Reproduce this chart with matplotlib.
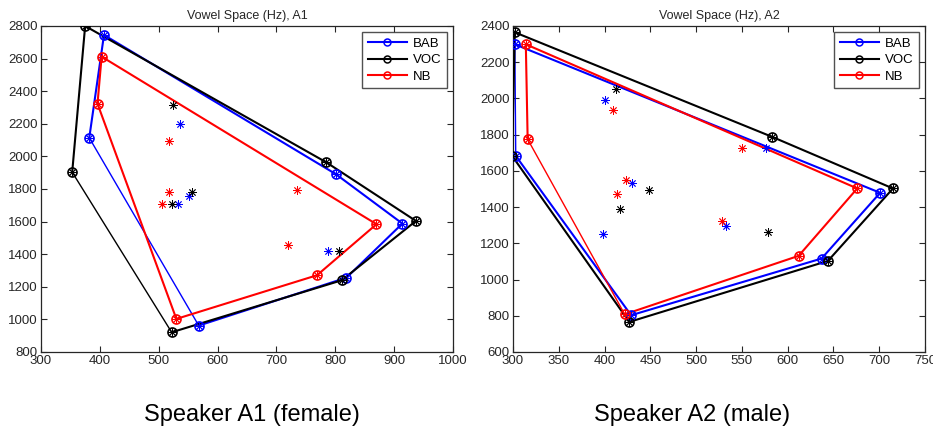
import matplotlib
matplotlib.use("Agg")
import matplotlib.pyplot as plt
from matplotlib.lines import Line2D

plt.rcParams["font.family"] = ["Liberation Sans", "DejaVu Sans"]
plt.rcParams["font.size"] = 9

# Speaker A1 (female): F1 (x) / F2 (y), hull vertices in drawing order + other vowels
a1_bab_hull_f1 = [568, 819, 914, 801, 407, 382]
a1_bab_hull_f2 = [962, 1256, 1588, 1891, 2745, 2114]
a1_bab_pts_f1 = [537, 533, 552, 787]
a1_bab_pts_f2 = [2200, 1711, 1758, 1420]

a1_voc_hull_f1 = [522, 811, 937, 785, 375, 353]
a1_voc_hull_f2 = [921, 1240, 1604, 1963, 2800, 1903]
a1_voc_pts_f1 = [525, 556, 522, 806]
a1_voc_pts_f2 = [2313, 1779, 1705, 1420]

a1_nb_hull_f1 = [396, 403, 870, 769, 530]
a1_nb_hull_f2 = [2323, 2612, 1584, 1271, 1003]
a1_nb_pts_f1 = [517, 517, 505, 735, 719]
a1_nb_pts_f2 = [2092, 1781, 1711, 1793, 1459]

# Speaker A2 (male)
a2_bab_hull_f1 = [302, 701, 637, 429, 303]
a2_bab_hull_f2 = [2299, 1479, 1116, 803, 1683]
a2_bab_pts_f1 = [401, 430, 398, 533, 576]
a2_bab_pts_f2 = [1993, 1534, 1250, 1298, 1724]

a2_voc_hull_f1 = [302, 583, 715, 644, 427, 299]
a2_voc_hull_f2 = [2365, 1788, 1503, 1103, 766, 1683]
a2_voc_pts_f1 = [412, 448, 417, 579]
a2_voc_pts_f2 = [2050, 1492, 1392, 1265]

a2_nb_hull_f1 = [316, 314, 676, 612, 422]
a2_nb_hull_f2 = [1775, 2299, 1503, 1131, 808]
a2_nb_pts_f1 = [409, 423, 414, 528, 550]
a2_nb_pts_f2 = [1934, 1549, 1471, 1324, 1726]

labels = ["BAB", "VOC", "NB"]
colors = ["#0000ff", "#000000", "#ff0000"]
dark = "#262626"
asterisk = (8, 2, 0)


def draw_condition(ax, hx, hy, px, py, color, close_lw):
    ax.plot(hx, hy, "-", color=color, lw=1.5, zorder=3)
    ax.plot([hx[-1], hx[0]], [hy[-1], hy[0]], "-", color=color, lw=close_lw, zorder=3)
    ax.plot(hx, hy, "o", color=color, ms=6.5, mfc="none", mew=1.2, zorder=4)
    ax.plot(hx + px, hy + py, ls="none", marker=asterisk, color=color,
            ms=6, mew=0.6, zorder=4)


def style_axes(ax, title, xlim, ylim, xticks, yticks):
    ax.set_xlim(*xlim)
    ax.set_ylim(*ylim)
    ax.set_xticks(xticks)
    ax.set_yticks(yticks)
    ax.set_title(title, fontsize=9, color=dark, pad=5)
    ax.tick_params(direction="in", top=True, right=True, length=4, width=0.8,
                   colors=dark, labelsize=9.5, pad=2.5)
    for s in ax.spines.values():
        s.set_color(dark)
        s.set_linewidth(0.9)
    handles = [Line2D([0], [0], color=c, lw=1.5, marker="o", ms=5,
                      mfc="none", mew=1.1) for c in colors]
    leg = ax.legend(handles, labels, loc="upper right", fontsize=9.5,
                    handlelength=3.0, labelspacing=0.3, borderaxespad=0.45,
                    borderpad=0.45, handletextpad=0.4, fancybox=False)
    leg.get_frame().set_edgecolor(dark)
    leg.get_frame().set_linewidth(1.0)


fig = plt.figure(figsize=(9.33, 4.30), dpi=100)
ax1 = fig.add_axes([41 / 933, 78 / 430, 412 / 933, 326 / 430])
ax2 = fig.add_axes([513 / 933, 78 / 430, 412 / 933, 326 / 430])

draw_condition(ax1, a1_bab_hull_f1, a1_bab_hull_f2, a1_bab_pts_f1, a1_bab_pts_f2, colors[0], 1.0)
draw_condition(ax1, a1_voc_hull_f1, a1_voc_hull_f2, a1_voc_pts_f1, a1_voc_pts_f2, colors[1], 1.0)
draw_condition(ax1, a1_nb_hull_f1, a1_nb_hull_f2, a1_nb_pts_f1, a1_nb_pts_f2, colors[2], 1.5)

draw_condition(ax2, a2_bab_hull_f1, a2_bab_hull_f2, a2_bab_pts_f1, a2_bab_pts_f2, colors[0], 1.0)
draw_condition(ax2, a2_voc_hull_f1, a2_voc_hull_f2, a2_voc_pts_f1, a2_voc_pts_f2, colors[1], 1.5)
draw_condition(ax2, a2_nb_hull_f1, a2_nb_hull_f2, a2_nb_pts_f1, a2_nb_pts_f2, colors[2], 1.0)

style_axes(ax1, "Vowel Space (Hz), A1", (300, 1000), (800, 2800),
           range(300, 1001, 100), range(800, 2801, 200))
style_axes(ax2, "Vowel Space (Hz), A2", (300, 750), (600, 2400),
           range(300, 751, 50), range(600, 2401, 200))

fig.text(252 / 933, 15 / 430, "Speaker A1 (female)", fontsize=17, ha="center", va="center")
fig.text(692 / 933, 15 / 430, "Speaker A2 (male)", fontsize=17, ha="center", va="center")

fig.savefig("out.png", dpi=100)
